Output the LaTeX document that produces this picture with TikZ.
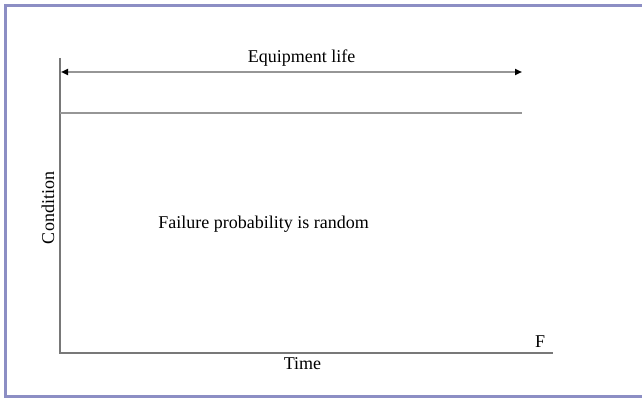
\documentclass[tikz,border=0pt]{standalone}
\usepackage{fontspec}
\setmainfont{Liberation Serif}
\usetikzlibrary{arrows.meta}
\definecolor{framec}{RGB}{140,142,196}
\definecolor{axisc}{RGB}{120,120,120}
\definecolor{linec}{RGB}{150,150,150}
\tikzset{
  axis/.style={draw=axisc, line width=1.4pt},
  lifeline/.style={draw=linec, line width=1.8pt},
  lbl/.style={font=\fontsize{18}{20}\selectfont, inner sep=0pt, text=black},
  tipend/.tip={Triangle[length=7pt,width=6pt,color=black,fill=black]}
}
\begin{document}
\begin{tikzpicture}[x=1pt,y=-1pt]
  \useasboundingbox (0,0) rectangle (642,398);
  % outer frame
  \draw[framec, line width=3pt] (5.5,400) -- (5.5,5.5) -- (650,5.5);
  \draw[framec, line width=2.5pt] (5.5,396.5) -- (650,396.5);

  % axes
  \coordinate (o) at (60,353);
  \coordinate (ytop) at (60,58);
  \coordinate (xend) at (553,353);
  \draw[axis] (ytop) -- (o) -- (xend);

  % equipment life span
  \coordinate (al) at (61,72);
  \coordinate (ar) at (522,72);
  \draw[lifeline, tipend-tipend] (al) -- (ar);
  \coordinate (ll) at (60,113);
  \coordinate (lr) at (522,113);
  \draw[lifeline] (ll) -- (lr);

  % labels
  \node[lbl, anchor=base] (life) at (301.5,63) {Equipment life};
  \node[lbl, anchor=base] (fail) at (263.5,228.5) {Failure probability is random};
  \node[lbl, anchor=base] (time) at (302.5,369) {Time};
  \node[lbl, anchor=base] (f) at (540,347.5) {F};
  \node[lbl, anchor=base, rotate=90] (cond) at (54,208) {Condition};
\end{tikzpicture}
\end{document}
